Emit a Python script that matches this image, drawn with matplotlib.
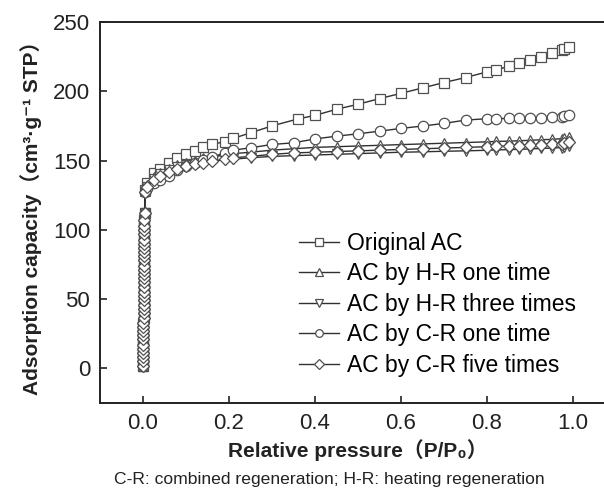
import matplotlib
matplotlib.use("Agg")
import matplotlib.pyplot as plt

plt.rcParams['font.family'] = ['Liberation Sans', 'DejaVu Sans', 'Noto Sans CJK SC']

# ---- data ----
# low-pressure points (stacked at P/P0 ~ 0)
p_low = [0.0001, 0.0002, 0.0003, 0.0004, 0.0005, 0.0006, 0.0007, 0.0008, 0.0009, 0.0010,
         0.0011, 0.0012, 0.0013, 0.0014, 0.0015, 0.0016, 0.0017, 0.0018, 0.0019, 0.0020,
         0.0021, 0.0022, 0.0023, 0.0024, 0.0025, 0.0026, 0.0027, 0.0028, 0.0029, 0.0030,
         0.0031, 0.0032, 0.0033, 0.0034, 0.0035]
v_low = [2, 5, 8, 11, 14, 17, 21, 24, 27, 30, 33, 36, 40, 43, 46, 49, 52, 55, 59, 62,
         65, 68, 71, 74, 78, 81, 84, 87, 90, 93, 97, 100, 103, 107, 112]

p_sq = [0.005, 0.01, 0.025, 0.04, 0.06, 0.08, 0.10, 0.12, 0.14, 0.16, 0.19, 0.21, 0.25,
        0.30, 0.36, 0.40, 0.45, 0.50, 0.55, 0.60, 0.65, 0.70, 0.75, 0.80, 0.82, 0.85,
        0.875, 0.90, 0.925, 0.95, 0.975, 0.98, 0.99]
original_ac = [129, 134, 141, 144, 148, 152, 154.5, 157, 159.5, 161.8, 163.5, 166, 170,
               175, 180, 182.6, 187, 190.6, 194.7, 198.5, 202.4, 206.3, 209.9, 214, 215.4,
               217.9, 220.3, 222.5, 224.9, 227.3, 229.7, 230.5, 231.6]

p_rg = [0.005, 0.01, 0.025, 0.04, 0.06, 0.08, 0.10, 0.12, 0.14, 0.16, 0.19, 0.21, 0.25,
        0.30, 0.35, 0.40, 0.45, 0.50, 0.55, 0.60, 0.65, 0.70, 0.75, 0.80, 0.82, 0.85,
        0.875, 0.90, 0.925, 0.95, 0.975, 0.98, 0.99]
hr_one = [128, 132, 138, 141, 144, 146.5, 148.5, 150, 151.5, 152.5, 154, 155, 156,
          157.5, 158.5, 159.5, 160, 160.5, 161, 161.5, 162, 162.5, 163, 163.5, 163.8, 164,
          164.3, 164.6, 165, 165.3, 165.8, 166.2, 167]
hr_three = [127, 131, 137, 140, 143, 145, 146.5, 147.5, 148.5, 149.5, 150.5, 151, 152,
            153, 153.5, 154, 154.5, 155, 155.5, 156, 156.3, 156.7, 157, 157.4, 157.6, 157.9,
            158.1, 158.4, 158.7, 159, 159.4, 159.7, 160.3]
cr_one = [127, 130, 134, 136, 139, 143, 146, 148.5, 150.5, 152.5, 155.5, 157.5, 159.2,
          161.6, 162.8, 165.6, 167.6, 169.3, 171.2, 173.2, 174.9, 176.8, 179.2, 180.2, 180.2,
          180.4, 180.6, 181, 181, 181.2, 181.6, 182, 182.6]
cr_five = [127, 131, 136, 139, 142, 144, 146, 147.5, 148.5, 149.5, 151, 152, 153,
           154.5, 155.5, 156, 156.5, 157, 157.5, 158, 158.5, 159, 159.5, 160, 160.2, 160.5,
           160.8, 161.1, 161.5, 161.8, 162.2, 162.6, 163.2]

labels = ['Original AC', 'AC by H-R one time', 'AC by H-R three times',
          'AC by C-R one time', 'AC by C-R five times']
xticks = [0.0, 0.2, 0.4, 0.6, 0.8, 1.0]
yticks = [0, 50, 100, 150, 200, 250]

# ---- figure ----
fig = plt.figure(figsize=(6.04, 4.90), dpi=100)
ax = fig.add_axes([100/604, 1 - 403/490, 516/604, (403 - 22)/490])

series = [(p_sq, original_ac, 's'), (p_rg, hr_one, '^'), (p_rg, hr_three, 'v'),
          (p_rg, cr_one, 'o'), (p_rg, cr_five, 'D')]
msizes = {'s': 7, '^': 7.5, 'v': 7.5, 'o': 7.5, 'D': 6.5}
for (px, vals, m), lab in zip(series, labels):
    xs = p_low + px
    ys = v_low + vals
    ax.plot(xs, ys, color='#303030', lw=1.0, marker=m, ms=msizes[m],
            mfc='white', mec='#505050', mew=0.9, label=lab)

ax.set_xlim(-0.1, 1.1)
ax.set_ylim(-25, 250)
ax.set_xticks(xticks)
ax.set_xticklabels([f'{t:.1f}' for t in xticks])
ax.set_yticks(yticks)
ax.set_yticklabels([str(t) for t in yticks])
ax.tick_params(direction='in', length=5, width=1.2, labelsize=16, pad=7, colors='#222222')
ax.spines['right'].set_visible(False)
for s in ['left', 'bottom', 'top']:
    ax.spines[s].set_linewidth(1.4)
    ax.spines[s].set_color('#222222')

ax.set_xlabel('Relative pressure（P/P₀）', fontsize=15, fontweight='bold', labelpad=4,
              color='#222222')
ax.set_ylabel('Adsorption capacity（cm³·g⁻¹ STP）', fontsize=15, fontweight='bold',
              labelpad=8, color='#222222')

leg = ax.legend(loc='upper left', bbox_to_anchor=(0.385, 0.45), frameon=False,
                fontsize=16.5, handlelength=1.75, handletextpad=0.35, labelspacing=0.33,
                borderaxespad=0, borderpad=0)
for h in leg.legend_handles:
    h.set_markersize(5.5)

fig.text(0.545, 0.022, 'C-R: combined regeneration; H-R: heating regeneration',
         ha='center', va='center', fontsize=12.6, color='#222222')

fig.savefig('out.png', dpi=100)
